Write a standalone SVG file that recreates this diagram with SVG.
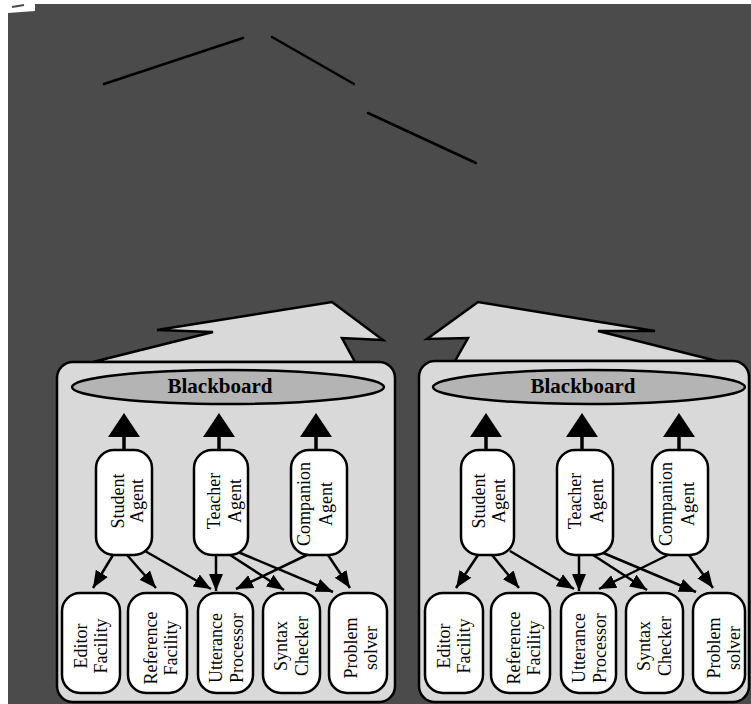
<svg xmlns="http://www.w3.org/2000/svg" width="751" height="704" viewBox="0 0 751 704">
<style>
.bg{fill:#4b4b4b}
.tl{stroke:#000;stroke-width:2.5;stroke-linecap:round;fill:none}
.callout{fill:#d9d9d9;stroke:#000;stroke-width:2.5;stroke-linejoin:miter}
.panel{fill:#d9d9d9;stroke:#000;stroke-width:2.5}
.bb{fill:#b4b4b4;stroke:#000;stroke-width:2.5}
.bbt{font-family:"Liberation Serif",serif;font-weight:bold;font-size:21px;text-anchor:middle;fill:#000}
.node{fill:#fff;stroke:#000;stroke-width:2.5}
.nt{font-family:"Liberation Serif",serif;font-size:18px;text-anchor:middle;fill:#000}
.conn{stroke:#000;stroke-width:2.5;fill:none;marker-end:url(#ah)}
.up{stroke:#000;stroke-width:3.5;fill:none}
.uph{fill:#000}
</style>
<defs>
<marker id="ah" markerUnits="userSpaceOnUse" markerWidth="18" markerHeight="16" viewBox="0 0 18 16" refX="17" refY="8" orient="auto">
<path d="M0,1 L17,8 L0,15 Z" fill="#000"/>
</marker>
</defs>
<rect x="0" y="0" width="751" height="704" fill="#fff"/>
<rect class="bg" x="8" y="4" width="743" height="700"/>
<polygon points="8,4 35,4 35,11 8,13" fill="#fff"/>
<line x1="12" y1="7" x2="24" y2="5" stroke="#4b4b4b" stroke-width="2"/>
<g id="top-lines">
<line class="tl" x1="104" y1="84" x2="243" y2="38"/>
<line class="tl" x1="272" y1="37" x2="354" y2="84"/>
<line class="tl" x1="368" y1="113" x2="476" y2="163"/>
</g>
<g id="callout-left"><polygon class="callout" points="93,362 213,332 157,330 332,302 383,340 342,338 355,362"/></g>
<g id="callout-right"><polygon class="callout" points="455,361 468,338 427,339 478,302 655,331 598,331 717,361"/></g>
<g id="panel-left"><rect class="panel" x="57" y="362" width="338" height="340" rx="16"/></g>
<g id="panel-right"><rect class="panel" x="419" y="361" width="330" height="341" rx="16"/></g>
<g id="blackboard-left"><ellipse class="bb" cx="228" cy="387" rx="156" ry="17"/><text class="bbt" x="220" y="393">Blackboard</text></g>
<g id="blackboard-right"><ellipse class="bb" cx="589" cy="387" rx="156" ry="17"/><text class="bbt" x="583" y="393">Blackboard</text></g>
<g id="connectors">
<line class="up" x1="124" y1="451" x2="124" y2="436"/><polygon class="uph" points="108,437 140,437 124,413"/>
<line class="up" x1="219" y1="451" x2="219" y2="436"/><polygon class="uph" points="203,437 235,437 219,413"/>
<line class="up" x1="316" y1="451" x2="316" y2="436"/><polygon class="uph" points="300,437 332,437 316,413"/>
<line class="up" x1="486" y1="451" x2="486" y2="436"/><polygon class="uph" points="470,437 502,437 486,413"/>
<line class="up" x1="582" y1="451" x2="582" y2="436"/><polygon class="uph" points="566,437 598,437 582,413"/>
<line class="up" x1="679" y1="451" x2="679" y2="436"/><polygon class="uph" points="663,437 695,437 679,413"/>
<line class="conn" x1="113" y1="555" x2="93" y2="588"/>
<line class="conn" x1="127" y1="555" x2="156" y2="588"/>
<line class="conn" x1="145" y1="551" x2="211" y2="589"/>
<line class="conn" x1="216" y1="555" x2="216" y2="591"/>
<line class="conn" x1="227" y1="553" x2="284" y2="590"/>
<line class="conn" x1="238" y1="552" x2="333" y2="592"/>
<line class="conn" x1="311" y1="553" x2="236" y2="589"/>
<line class="conn" x1="328" y1="555" x2="350" y2="588"/>
<line class="conn" x1="478" y1="555" x2="456" y2="588"/>
<line class="conn" x1="492" y1="555" x2="519" y2="588"/>
<line class="conn" x1="510" y1="551" x2="574" y2="589"/>
<line class="conn" x1="579" y1="555" x2="579" y2="591"/>
<line class="conn" x1="590" y1="553" x2="647" y2="590"/>
<line class="conn" x1="601" y1="552" x2="696" y2="592"/>
<line class="conn" x1="672" y1="553" x2="599" y2="589"/>
<line class="conn" x1="689" y1="555" x2="713" y2="588"/>
</g>
<g id="student-agent-left"><rect class="node" x="96" y="450" width="56" height="105" rx="18"/>
<text class="nt" transform="translate(124,501) rotate(-90)">Student</text><text class="nt" transform="translate(143,501) rotate(-90)">Agent</text></g>
<g id="teacher-agent-left"><rect class="node" x="194" y="450" width="54" height="105" rx="18"/>
<text class="nt" transform="translate(220,501) rotate(-90)">Teacher</text><text class="nt" transform="translate(241,501) rotate(-90)">Agent</text></g>
<g id="companion-agent-left"><rect class="node" x="291" y="450" width="56" height="105" rx="18"/>
<text class="nt" transform="translate(310,504) rotate(-90)">Companion</text><text class="nt" transform="translate(332,504) rotate(-90)">Agent</text></g>
<g id="editor-left"><rect class="node" x="62" y="593" width="58" height="100" rx="18"/>
<text class="nt" transform="translate(87,646) rotate(-90)">Editor</text><text class="nt" transform="translate(107,646) rotate(-90)">Facility</text></g>
<g id="reference-left"><rect class="node" x="128" y="593" width="59" height="100" rx="18"/>
<text class="nt" transform="translate(157,648) rotate(-90)">Reference</text><text class="nt" transform="translate(177,648) rotate(-90)">Facility</text></g>
<g id="utterance-left"><rect class="node" x="198" y="593" width="55" height="100" rx="18"/>
<text class="nt" transform="translate(222,648) rotate(-90)">Utterance</text><text class="nt" transform="translate(243,648) rotate(-90)">Processor</text></g>
<g id="syntax-left"><rect class="node" x="263" y="593" width="57" height="100" rx="18"/>
<text class="nt" transform="translate(287,646) rotate(-90)">Syntax</text><text class="nt" transform="translate(308,646) rotate(-90)">Checker</text></g>
<g id="problem-left"><rect class="node" x="329" y="593" width="58" height="100" rx="18"/>
<text class="nt" transform="translate(357,648) rotate(-90)">Problem</text><text class="nt" transform="translate(377,648) rotate(-90)">solver</text></g>
<g id="student-agent-right"><rect class="node" x="461" y="450" width="53" height="105" rx="18"/>
<text class="nt" transform="translate(485,501) rotate(-90)">Student</text><text class="nt" transform="translate(505,501) rotate(-90)">Agent</text></g>
<g id="teacher-agent-right"><rect class="node" x="557" y="450" width="56" height="105" rx="18"/>
<text class="nt" transform="translate(581,501) rotate(-90)">Teacher</text><text class="nt" transform="translate(603,501) rotate(-90)">Agent</text></g>
<g id="companion-agent-right"><rect class="node" x="652" y="450" width="56" height="105" rx="18"/>
<text class="nt" transform="translate(672,504) rotate(-90)">Companion</text><text class="nt" transform="translate(694,504) rotate(-90)">Agent</text></g>
<g id="editor-right"><rect class="node" x="425" y="593" width="58" height="100" rx="18"/>
<text class="nt" transform="translate(450,646) rotate(-90)">Editor</text><text class="nt" transform="translate(470,646) rotate(-90)">Facility</text></g>
<g id="reference-right"><rect class="node" x="491" y="593" width="59" height="100" rx="18"/>
<text class="nt" transform="translate(520,648) rotate(-90)">Reference</text><text class="nt" transform="translate(540,648) rotate(-90)">Facility</text></g>
<g id="utterance-right"><rect class="node" x="561" y="593" width="55" height="100" rx="18"/>
<text class="nt" transform="translate(585,648) rotate(-90)">Utterance</text><text class="nt" transform="translate(606,648) rotate(-90)">Processor</text></g>
<g id="syntax-right"><rect class="node" x="626" y="593" width="57" height="100" rx="18"/>
<text class="nt" transform="translate(650,646) rotate(-90)">Syntax</text><text class="nt" transform="translate(671,646) rotate(-90)">Checker</text></g>
<g id="problem-right"><rect class="node" x="693" y="593" width="52" height="100" rx="18"/>
<text class="nt" transform="translate(720,648) rotate(-90)">Problem</text><text class="nt" transform="translate(740,648) rotate(-90)">solver</text></g>
</svg>
